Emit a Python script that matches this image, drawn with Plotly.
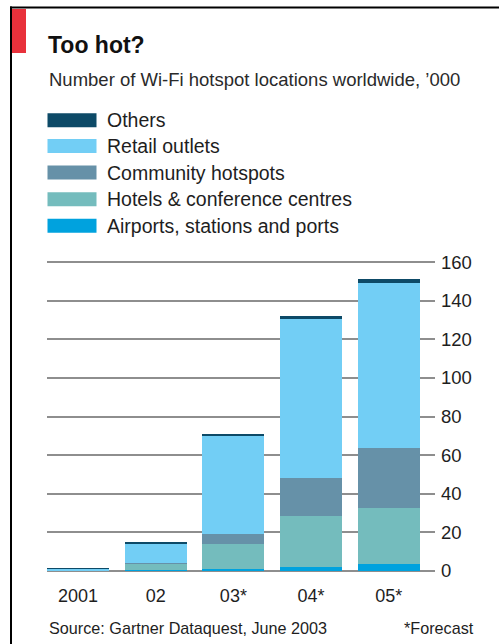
import plotly.graph_objects as go

# Wi-Fi hotspot locations worldwide, '000 (stacked from bottom to top)
years = ["2001", "02", "03*", "04*", "05*"]
airports = [0.1, 0.3, 0.8, 2.1, 3.8]
hotels = [0.3, 3.5, 13.0, 26.2, 28.8]
community = [0.1, 0.3, 5.6, 19.9, 31.1]
retail = [0.6, 10.3, 50.7, 82.8, 85.6]
others = [0.1, 0.3, 1.1, 1.0, 2.2]

series_names = ["Airports, stations and ports", "Hotels & conference centres",
                "Community hotspots", "Retail outlets", "Others"]
series_values = [airports, hotels, community, retail, others]
series_colors = ["#00a2de", "#74bcbd", "#6691a8", "#72cef5", "#0d4a67"]

y_ticks = [0, 20, 40, 60, 80, 100, 120, 140, 160]

W, H = 499, 644
L, R, T, B = 47, 64, 259, 73
PW, PH = W - L - R, H - T - B


def px_x(px):
    return (px - L) / PW


def px_y(py):
    return (H - B - py) / PH


FONT = "Liberation Sans, Arial, sans-serif"
TEXT = "#1e1e1e"

fig = go.Figure()
xs = list(range(len(years)))
for name, vals, col in zip(series_names, series_values, series_colors):
    fig.add_trace(go.Bar(x=xs, y=vals, name=name, marker=dict(color=col, line=dict(width=0)),
                         width=0.8, showlegend=False))

shapes = []
annotations = []

# frame: black rules on top and left, red tab
shapes.append(dict(type="line", xref="paper", yref="paper", x0=px_x(10), x1=px_x(W + 2),
                   y0=px_y(7.5), y1=px_y(7.5), line=dict(color="#000000", width=2)))
shapes.append(dict(type="line", xref="paper", yref="paper", x0=px_x(11), x1=px_x(11),
                   y0=px_y(6.5), y1=px_y(H + 2), line=dict(color="#000000", width=2)))
shapes.append(dict(type="rect", xref="paper", yref="paper", x0=px_x(12), x1=px_x(26),
                   y0=px_y(9), y1=px_y(53), fillcolor="#e8313b", line=dict(width=0)))

# title and subtitle
annotations.append(dict(text="<b>Too hot?</b>", xref="paper", yref="paper", x=px_x(46),
                        y=px_y(45), xanchor="left", yanchor="middle", showarrow=False,
                        font=dict(family=FONT, size=23, color="#111111")))
annotations.append(dict(text="Number of Wi-Fi hotspot locations worldwide, \u2019000", xref="paper",
                        yref="paper", x=px_x(47), y=px_y(79), xanchor="left", yanchor="middle",
                        showarrow=False, font=dict(family=FONT, size=18.5, color="#2a2a2a")))

# legend drawn as swatches with labels, top row = top of the stack
row_centers = [120.3, 146.0, 172.6, 199.2, 225.8]
for i, (name, col) in enumerate(zip(series_names[::-1], series_colors[::-1])):
    cy = row_centers[i]
    shapes.append(dict(type="rect", xref="paper", yref="paper", x0=px_x(47.5), x1=px_x(96.5),
                       y0=px_y(cy - 7), y1=px_y(cy + 7), fillcolor=col, line=dict(width=0)))
    annotations.append(dict(text=name, xref="paper", yref="paper", x=px_x(105), y=px_y(cy),
                            xanchor="left", yanchor="middle", showarrow=False,
                            font=dict(family=FONT, size=19.5, color=TEXT)))

# footer
annotations.append(dict(text="Source: Gartner Dataquest, June 2003", xref="paper", yref="paper",
                        x=px_x(47), y=px_y(628), xanchor="left", yanchor="middle", showarrow=False,
                        font=dict(family=FONT, size=16.2, color=TEXT)))
annotations.append(dict(text="*Forecast", xref="paper", yref="paper",
                        x=px_x(476), y=px_y(628), xanchor="right", yanchor="middle", showarrow=False,
                        font=dict(family=FONT, size=16.2, color=TEXT)))

fig.update_layout(
    width=W, height=H,
    margin=dict(l=L, r=R, t=T, b=B, pad=0),
    paper_bgcolor="#ffffff", plot_bgcolor="#ffffff",
    barmode="stack",
    shapes=shapes, annotations=annotations,
    xaxis=dict(range=[-0.4, -0.4 + PW / 77.66], tickvals=xs, ticktext=years,
               showgrid=False, zeroline=False, showline=False, ticks="",
               ticklabelstandoff=12,
               tickfont=dict(family=FONT, size=18, color=TEXT), fixedrange=True),
    yaxis=dict(range=[0, PH / 1.93], side="right", tickvals=y_ticks,
               showgrid=True, gridcolor="#8e8e8e", gridwidth=1.6,
               zeroline=True, zerolinecolor="#8e8e8e", zerolinewidth=1.6,
               showline=False, ticks="", ticklabelstandoff=5,
               tickfont=dict(family=FONT, size=18.5, color=TEXT), fixedrange=True),
)

fig.write_html("out.html")
